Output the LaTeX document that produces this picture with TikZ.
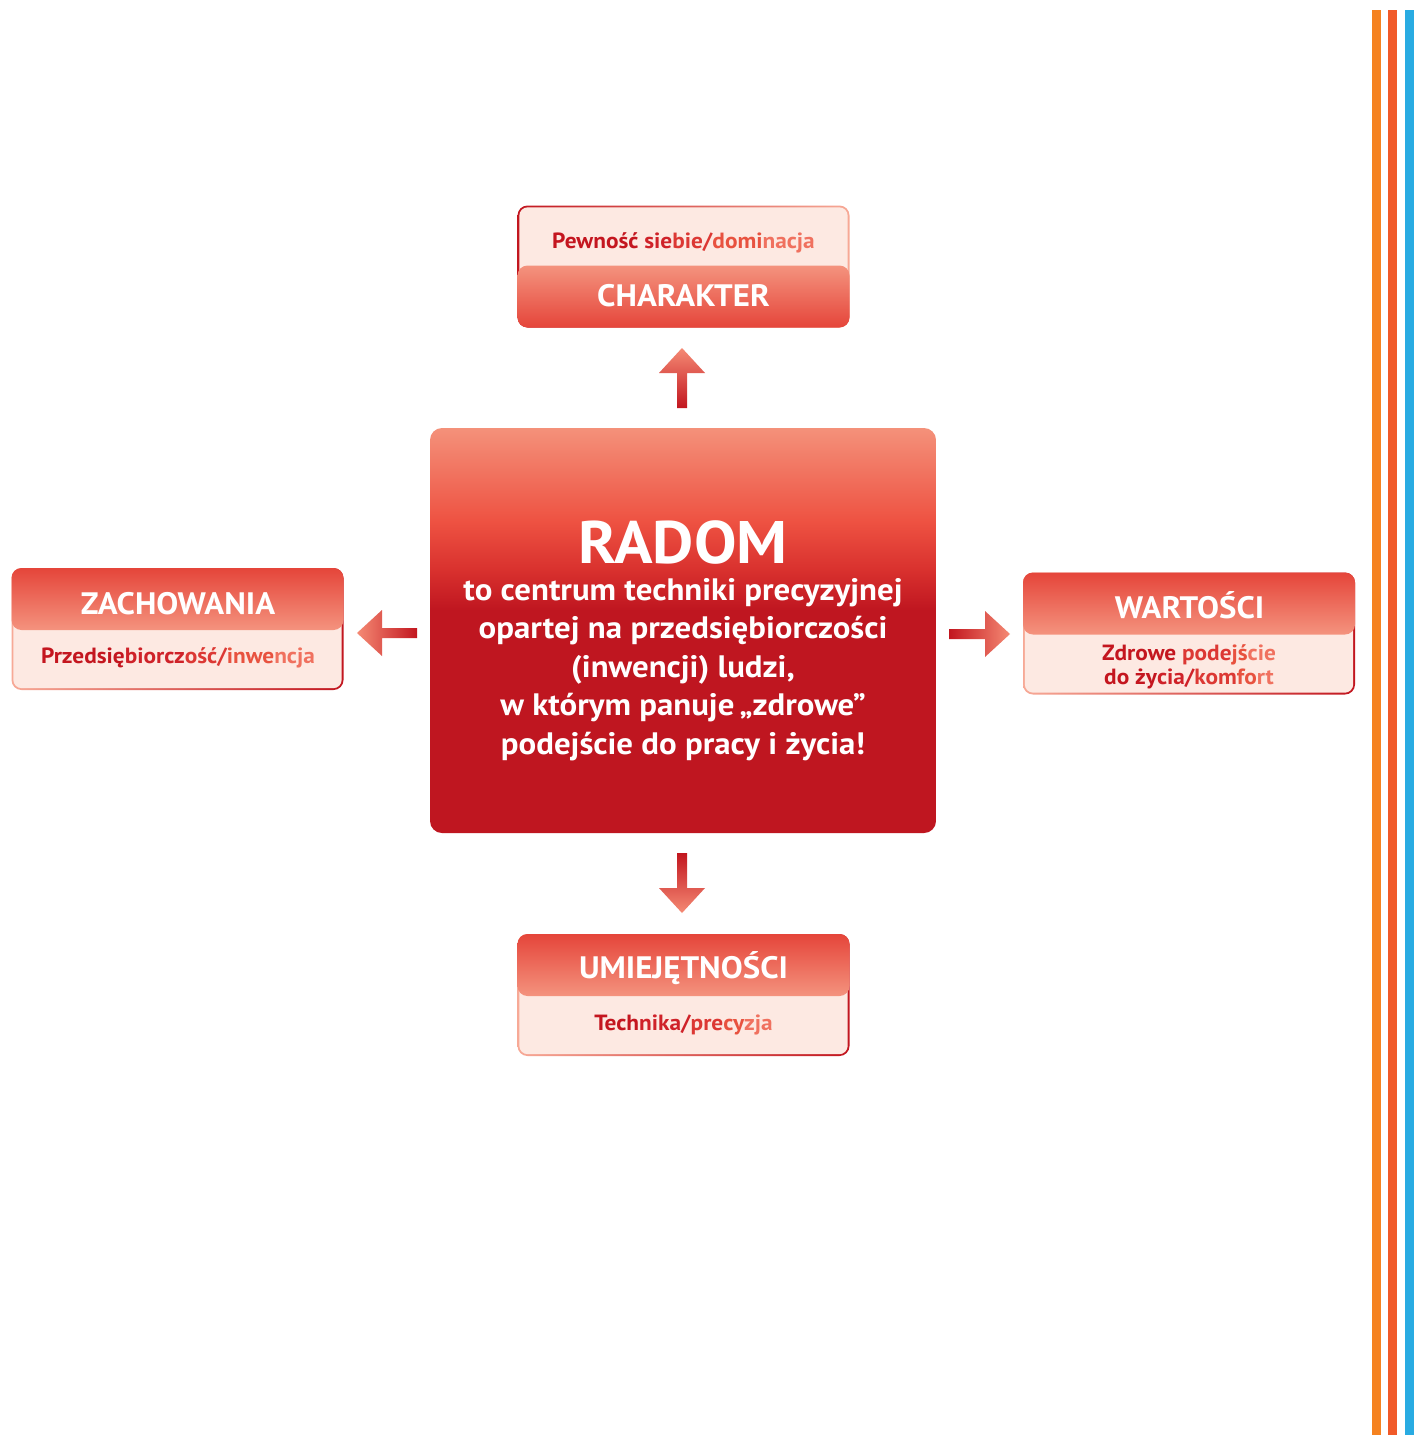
\documentclass[tikz,border=0pt]{standalone}
\usepackage{fontspec}
\setmainfont{PT Sans}[FakeStretch=1.06]
\definecolor{cdark}{HTML}{BF1620}
\definecolor{cmidA}{HTML}{D9312E}
\definecolor{cmid}{HTML}{EE5242}
\definecolor{csalmon}{HTML}{F4917A}
\definecolor{hdark}{HTML}{E5453A}
\definecolor{hlight}{HTML}{F4937E}
\definecolor{pinkbg}{HTML}{FDE9E2}
\definecolor{bdark}{HTML}{C2161F}
\definecolor{blight}{HTML}{F7A996}
\definecolor{adark}{HTML}{C2161F}
\definecolor{alight}{HTML}{F58A74}
\definecolor{tA}{HTML}{C4161F}
\definecolor{tB}{HTML}{CF2229}
\definecolor{tC}{HTML}{DC3834}
\definecolor{tD}{HTML}{E8523F}
\definecolor{tE}{HTML}{F0715F}
\definecolor{sOrange}{HTML}{F58220}
\definecolor{sRed}{HTML}{F15A29}
\definecolor{sBlue}{HTML}{29ABE2}
\pgfdeclareverticalshading{radomshade}{100bp}{color(0bp)=(cdark); color(25bp)=(cdark); color(52.5bp)=(cdark); color(57.5bp)=(cmidA); color(63.5bp)=(cmid); color(75bp)=(csalmon); color(100bp)=(csalmon)}
\tikzset{
  boxouter/.style={draw=none, rounded corners=10pt, minimum width=332pt, minimum height=122pt, inner sep=0pt},
  boxinner/.style={fill=pinkbg, rounded corners=8.5pt, minimum width=328.4pt, minimum height=118.4pt, inner sep=0pt},
  boxhead/.style={rounded corners=10pt, minimum width=332pt, minimum height=62pt, inner sep=0pt},
  headtext/.style={text=white, font=\bfseries\fontsize{31}{31}\selectfont, anchor=base, inner sep=0pt},
  subtext/.style={font=\bfseries\fontsize{22}{22}\selectfont, anchor=base, inner sep=0pt},
  radomtitle/.style={text=white, font=\bfseries\fontsize{60}{60}\selectfont, anchor=base, inner sep=0pt},
  radomline/.style={text=white, font=\bfseries\fontsize{31}{31}\selectfont, anchor=base, inner sep=0pt},
  stripe/.style={line width=9pt},
}
\begin{document}
\begin{tikzpicture}[x=1pt,y=-1pt]
\useasboundingbox[fill=white] (0,0) rectangle (1420,1435);

% stripes
\draw[stripe, sOrange] (1376.5,10) -- (1376.5,1435);
\draw[stripe, sRed] (1392.5,10) -- (1392.5,1435);
\draw[stripe, sBlue] (1409,10) -- (1409,1435);

% central box
\node[rounded corners=12pt, minimum width=506pt, minimum height=405pt, inner sep=0pt, shading=radomshade] (radom) at (683,630.5) {};
\node[radomtitle] (radomT) at (683,563) {RADOM};
\node[radomline] (r1) at (683,600) {to centrum techniki precyzyjnej};
\node[radomline] (r2) at (683,638.5) {opartej na przedsiębiorczości};
\node[radomline] (r3) at (683,677) {(inwencji) ludzi,};
\node[radomline] (r4) at (683,715.5) {w którym panuje\,„zdrowe”};
\node[radomline] (r5) at (683,754) {podejście do pracy i życia!};

% top box: CHARAKTER
\node[boxouter, left color=bdark, right color=blight] (charO) at (683.5,266.5) {};
\node[boxinner] (charI) at (charO.center) {};
\node[boxhead, anchor=south, top color=hlight, bottom color=hdark] (charH) at (charO.south) {};
\node[subtext] (charS) at (683.5,248) {{\color{tA}Pewność} {\color{tB}sie}{\color{tC}bie/}{\color{tD}domi}{\color{tE}nacja}};
\node[headtext] (charT) at (683.5,306) {CHARAKTER};

% left box: ZACHOWANIA
\node[boxouter, left color=blight, right color=bdark] (zachO) at (177.5,629) {};
\node[boxinner] (zachI) at (zachO.center) {};
\node[boxhead, anchor=north, top color=hdark, bottom color=hlight] (zachH) at (zachO.north) {};
\node[headtext] (zachT) at (178,614) {ZACHOWANIA};
\node[subtext] (zachS) at (178,663) {{\color{tA}Przedsię}{\color{tB}biorcz}{\color{tC}ość/}{\color{tD}inwe}{\color{tE}ncja}};

% right box: WARTOŚCI
\node[boxouter, left color=blight, right color=bdark] (wartO) at (1189,633.5) {};
\node[boxinner] (wartI) at (wartO.center) {};
\node[boxhead, anchor=north, top color=hdark, bottom color=hlight] (wartH) at (wartO.north) {};
\node[headtext] (wartT) at (1189.5,618) {WARTOŚCI};
\node[subtext] (wartS1) at (1189,660) {{\color{tA}Zdrowe} {\color{tC}pode}{\color{tD}jś}{\color{tE}cie}};
\node[subtext] (wartS2) at (1189,684) {{\color{tA}do ży}{\color{tB}cia/}{\color{tC}kom}{\color{tD}fo}{\color{tE}rt}};

% bottom box: UMIEJĘTNOŚCI
\node[boxouter, left color=blight, right color=bdark] (umiO) at (683.5,995) {};
\node[boxinner] (umiI) at (umiO.center) {};
\node[boxhead, anchor=north, top color=hdark, bottom color=hlight] (umiH) at (umiO.north) {};
\node[headtext] (umiT) at (683.5,978) {UMIEJĘTNOŚCI};
\node[subtext] (umiS) at (683.5,1030) {{\color{tA}Tech}{\color{tB}nika/}{\color{tC}pre}{\color{tD}cy}{\color{tE}zja}};

% arrows
\coordinate (upTip) at (682,348);
\path[top color=alight, bottom color=adark] (upTip) -- ++(23,25) -- ++(-18,0) -- ++(0,35) -- ++(-10,0) -- ++(0,-35) -- ++(-18,0) -- cycle;
\coordinate (downTip) at (682,913);
\path[top color=adark, bottom color=alight] (downTip) -- ++(23,-25) -- ++(-18,0) -- ++(0,-35) -- ++(-10,0) -- ++(0,35) -- ++(-18,0) -- cycle;
\coordinate (leftTip) at (357,633);
\path[left color=alight, right color=adark] (leftTip) -- ++(25,-23) -- ++(0,18) -- ++(35,0) -- ++(0,10) -- ++(-35,0) -- ++(0,18) -- cycle;
\coordinate (rightTip) at (1010,634);
\path[left color=adark, right color=alight] (rightTip) -- ++(-25,-23) -- ++(0,18) -- ++(-36,0) -- ++(0,10) -- ++(36,0) -- ++(0,18) -- cycle;
\end{tikzpicture}
\end{document}
